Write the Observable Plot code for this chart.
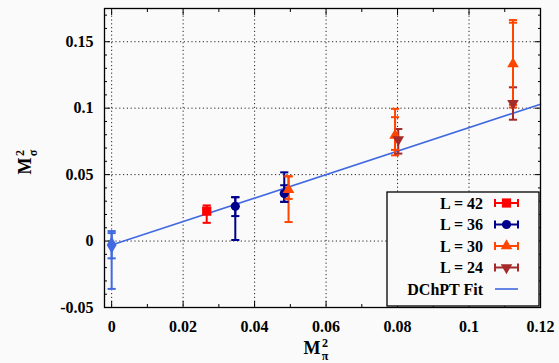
<!DOCTYPE html>
<html>
<head>
<meta charset="utf-8">
<script src="https://cdn.jsdelivr.net/npm/d3@7"></script>
<script src="https://cdn.jsdelivr.net/npm/@observablehq/plot@0.6"></script>
<style>
  html, body { margin: 0; padding: 0; background: #fafafa; }
  #chart { position: relative; width: 559px; height: 363px; }
</style>
</head>
<body>
<div id="chart"></div>
<script>
// ---- Data: sigma mass squared vs pion mass squared ----
const seriesNames   = ["L = 42", "L = 36", "L = 30", "L = 24"];
const seriesColors  = ["#ff0000", "#00008b", "#ff4500", "#a52a2a"];
const fitName  = "DChPT Fit";
const fitColor = "#4169e1";

// L = 42
const l42X  = [0.0266];
const l42Y  = [0.0225];
const l42Lo = [0.0137];
const l42Hi = [0.0268];

// L = 36 (statistical and total uncertainties)
const l36X      = [0.0346, 0.0483];
const l36Y      = [0.0262, 0.0357];
const l36StatLo = [0.0188, 0.0295];
const l36StatHi = [0.0330, 0.0420];
const l36Lo     = [0.0008, 0.0295];
const l36Hi     = [0.0330, 0.0517];

// L = 30
const l30X      = [0.0495, 0.0793, 0.1123];
const l30Y      = [0.0387, 0.0795, 0.1333];
const l30StatLo = [0.0317, 0.0686, 0.1025];
const l30StatHi = [0.0487, 0.0932, 0.1643];
const l30Lo     = [0.0143, 0.0645, 0.1005];
const l30Hi     = [0.0487, 0.0995, 0.1663];

// L = 24
const l24X  = [0.0802, 0.1123];
const l24Y  = [0.0763, 0.1037];
const l24Lo = [0.0658, 0.0913];
const l24Hi = [0.0843, 0.1157];

// Chiral-limit value from the fit
const chiralX      = [0];
const chiralY      = [-0.003];
const chiralStatLo = [-0.013];
const chiralStatHi = [0.006];
const chiralLo     = [-0.036];
const chiralHi     = [0.0075];

// Linear DChPT fit, endpoints
const fitX = [0, 0.12];
const fitY = [-0.003, 0.103];

// Axis ticks
const xMajor = [0, 0.02, 0.04, 0.06, 0.08, 0.1, 0.12];
const xMinor = [0.01, 0.03, 0.05, 0.07, 0.09, 0.11];
const yMajor = [-0.05, 0, 0.05, 0.1, 0.15];
const yMinor = [-0.04, -0.03, -0.02, -0.01, 0.01, 0.02, 0.03, 0.04, 0.06, 0.07, 0.08, 0.09,
                0.11, 0.12, 0.13, 0.14, 0.16, 0.17];

// ---- Build tables ----
function rows(xs, ys, los, his, s) {
  return xs.map((x, i) => ({x, y: ys[i], lo: los[i], hi: his[i], s}));
}
const points = [
  ...rows(l42X, l42Y, l42Lo, l42Hi, 0),
  ...rows(l36X, l36Y, l36Lo, l36Hi, 1),
  ...rows(l30X, l30Y, l30Lo, l30Hi, 2),
  ...rows(l24X, l24Y, l24Lo, l24Hi, 3)
];
const statBars = [
  ...rows(l36X, l36Y, l36StatLo, l36StatHi, 1),
  ...rows(l30X, l30Y, l30StatLo, l30StatHi, 2)
];
const chiral = rows(chiralX, chiralY, chiralLo, chiralHi, 4);
const chiralStat = rows(chiralX, chiralY, chiralStatLo, chiralStatHi, 4);
const fit = fitX.map((x, i) => ({x, y: fitY[i]}));

// ---- Symbols ----
const triangleDown = {
  draw(ctx, size) {
    const y = -Math.sqrt(size / (Math.sqrt(3) * 3));
    ctx.moveTo(0, -y * 2);
    ctx.lineTo(-Math.sqrt(3) * y, y);
    ctx.lineTo(Math.sqrt(3) * y, y);
    ctx.closePath();
  }
};
const capH = {
  draw(ctx, size) {
    const w = Math.sqrt(size) / 2;
    ctx.moveTo(-w, 0);
    ctx.lineTo(w, 0);
  }
};
const seriesSymbols = ["square", "circle", "triangle", triangleDown];
const seriesR = [5.2, 4.6, 4.3, 4.3];
const colorOf = s => s === 4 ? fitColor : seriesColors[s];

const fmt = d => String(+d.toFixed(3));
const FONT = "'Liberation Serif', 'Times New Roman', serif";

// Error bar with caps
function errorBars(data, extra = {}) {
  return [
    Plot.ruleX(data, {x: "x", y1: "lo", y2: "hi", stroke: d => colorOf(d.s), strokeWidth: 2, ...extra}),
    Plot.dot(data, {x: "x", y: "lo", symbol: capH, r: 4.6, stroke: d => colorOf(d.s), strokeWidth: 2, fill: "none", ...extra}),
    Plot.dot(data, {x: "x", y: "hi", symbol: capH, r: 4.6, stroke: d => colorOf(d.s), strokeWidth: 2, fill: "none", ...extra})
  ];
}

const tickOnly = {tickFormat: () => "", label: null, stroke: "#000"};
const labelOpts = {tickSize: 0, label: null, tickFormat: fmt, fontSize: 16, fontWeight: "bold",
                   fontFamily: FONT, fill: "#000"};

const chart = Plot.plot({
  width: 559,
  height: 363,
  marginLeft: 104,
  marginRight: 19,
  marginTop: 8,
  marginBottom: 56,
  style: `background:#fafafa;font-family:${FONT};font-size:16px;font-weight:bold;color:#000;`,
  x: {domain: [-0.002, 0.12], label: null},
  y: {domain: [-0.05, 0.175], label: null},
  marks: [
    // dotted grid
    Plot.gridX(xMajor, {stroke: "#000", strokeOpacity: 0.85, strokeDasharray: "1.2,2.6", strokeWidth: 1}),
    Plot.gridY(yMajor, {stroke: "#000", strokeOpacity: 0.85, strokeDasharray: "1.2,2.6", strokeWidth: 1}),

    // inward ticks on all four sides
    Plot.axisX(xMajor, {anchor: "bottom", tickSize: 6, dy: -6, ...tickOnly}),
    Plot.axisX(xMinor, {anchor: "bottom", tickSize: 3, dy: -3, ...tickOnly}),
    Plot.axisX(xMajor, {anchor: "top", tickSize: 6, dy: 6, ...tickOnly}),
    Plot.axisX(xMinor, {anchor: "top", tickSize: 3, dy: 3, ...tickOnly}),
    Plot.axisY(yMajor, {anchor: "left", tickSize: 6, dx: 6, ...tickOnly}),
    Plot.axisY(yMinor, {anchor: "left", tickSize: 3, dx: 3, ...tickOnly}),
    Plot.axisY(yMajor, {anchor: "right", tickSize: 6, dx: -6, ...tickOnly}),
    Plot.axisY(yMinor, {anchor: "right", tickSize: 3, dx: -3, ...tickOnly}),

    // tick labels
    Plot.axisX(xMajor, {anchor: "bottom", tickPadding: 13, ...labelOpts}),
    Plot.axisY(yMajor, {anchor: "left", tickPadding: 11, ...labelOpts}),

    // fit line
    Plot.line(fit, {x: "x", y: "y", stroke: fitColor, strokeWidth: 1.6}),

    // error bars and markers per volume
    ...errorBars(points),
    ...errorBars(statBars),
    ...seriesNames.map((_, s) =>
      Plot.dot(points.filter(d => d.s === s), {x: "x", y: "y", symbol: seriesSymbols[s], r: seriesR[s],
                                               fill: seriesColors[s], stroke: "none"})),

    // chiral-limit point
    ...errorBars(chiral),
    ...errorBars(chiralStat),
    Plot.dot(chiral, {x: "x", y: "y", symbol: "diamond", r: 5.2, fill: fitColor, stroke: "none"}),

    Plot.frame({stroke: "#000", strokeWidth: 1.3})
  ]
});

document.getElementById("chart").appendChild(chart);

const svg = d3.select(chart);
// serif bold for every tick label
svg.selectAll("text").style("font-family", FONT).style("font-weight", "bold");

// ---- Axis titles: M with stacked superscript 2 and a subscript ----
function massLabel(g, sub) {
  const base = t => t.style("font-family", FONT).style("font-weight", "bold").attr("fill", "#000");
  base(g.append("text")).style("font-size", "18px").attr("x", 0).attr("y", 0).text("M");
  base(g.append("text")).style("font-size", "12px").attr("x", 13).attr("y", -7).text("2");
  base(g.append("text")).style("font-size", "12px").attr("x", 13).attr("y", 5.5).text(sub);
}
massLabel(svg.append("g").attr("transform", "translate(312,354)"), "π");
massLabel(svg.append("g").attr("transform", "translate(31,166) rotate(-90)"), "σ");

// ---- Legend box ----
const lg = svg.append("g").attr("transform", "translate(387,192)");
lg.append("rect").attr("width", 152).attr("height", 114)
  .attr("fill", "#fafafa").attr("stroke", "#000").attr("stroke-width", 1.3);
const legendEntries = [
  ...seriesNames.map((name, s) => ({name, color: seriesColors[s], symbol: seriesSymbols[s], r: seriesR[s]})),
  {name: fitName, color: fitColor, symbol: null}
];
legendEntries.forEach((e, i) => {
  const cy = 11 + i * 21.5;
  lg.append("text").attr("x", 96).attr("y", cy).attr("dy", "0.35em")
    .attr("text-anchor", "end").style("font-family", FONT).attr("font-weight", "bold")
    .attr("font-size", 16).attr("fill", "#000").text(e.name);
  if (e.symbol === null) {
    lg.append("line").attr("x1", 108).attr("x2", 131).attr("y1", cy).attr("y2", cy)
      .attr("stroke", e.color).attr("stroke-width", 1.6);
  } else {
    lg.append("line").attr("x1", 108).attr("x2", 131).attr("y1", cy).attr("y2", cy)
      .attr("stroke", e.color).attr("stroke-width", 2);
    [108, 131].forEach(x => lg.append("line").attr("x1", x).attr("x2", x)
      .attr("y1", cy - 4).attr("y2", cy + 4).attr("stroke", e.color).attr("stroke-width", 2));
    const type = typeof e.symbol === "string"
      ? {square: d3.symbolSquare, circle: d3.symbolCircle, triangle: d3.symbolTriangle}[e.symbol]
      : e.symbol;
    lg.append("path").attr("transform", `translate(119.5,${cy})`)
      .attr("d", d3.symbol(type, Math.PI * e.r * e.r)()).attr("fill", e.color);
  }
});
</script>
</body>
</html>
